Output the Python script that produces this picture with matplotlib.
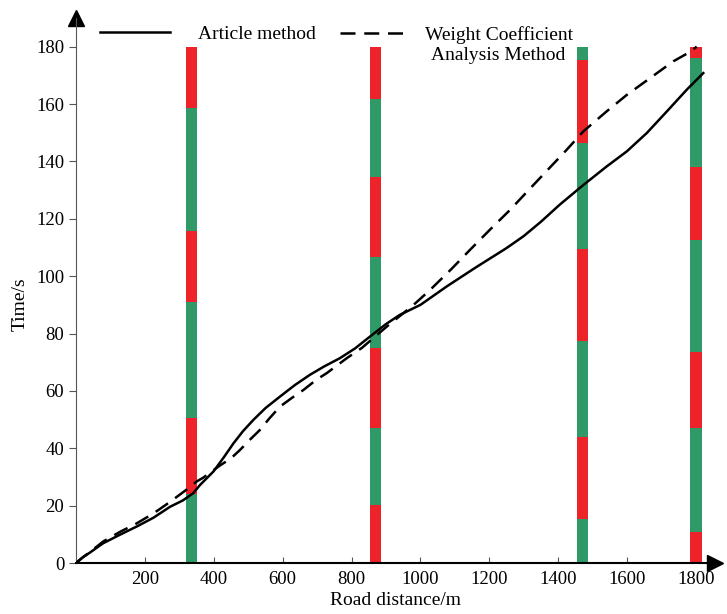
import matplotlib
matplotlib.use("Agg")
import matplotlib.pyplot as plt

plt.rcParams['font.family'] = ['Liberation Serif', 'DejaVu Serif']

# Article method (solid)
art_x = [0, 20, 40, 79, 130, 176, 225, 273, 310, 340, 360, 399, 430, 457, 485, 515, 550, 592,
         635, 679, 720, 766, 810, 853, 900, 940, 1000, 1076, 1160, 1250, 1300, 1350, 1405, 1470,
         1540, 1599, 1657, 1715, 1773, 1821]
art_y = [0, 2, 3.6, 6.9, 10, 12.7, 15.8, 19.6, 21.8, 24.3, 27.2, 31.9, 37, 41.7, 46, 49.9, 54, 58,
         62, 65.6, 68.5, 71.4, 74.8, 78.9, 83.3, 86.5, 90, 96.4, 103, 109.8, 114, 119, 125, 131.5,
         138.2, 143.5, 149.9, 157.4, 165, 170.8]

# Weight Coefficient Analysis Method (dashed)
wca_x = [0, 20, 40, 79, 130, 176, 225, 273, 320, 350, 370, 418, 450, 476, 505, 534, 562, 592,
         626, 660, 699, 728, 786, 830, 863, 902, 940, 980, 1028, 1090, 1144, 1200, 1260, 1310,
         1361, 1424, 1473, 1540, 1599, 1666, 1734, 1777, 1802]
wca_y = [0, 2, 3.8, 7.5, 11, 13.8, 17.3, 21.3, 25.5, 28.4, 29.8, 34, 36.5, 39.4, 43, 46.4, 50.5, 54.5,
         57.5, 60.3, 64, 66.2, 71.4, 75, 78.4, 82.4, 86.1, 90, 95.2, 102.5, 109.2, 116, 123.1, 129.5,
         136, 144, 150.5, 157.4, 163.2, 169, 174.9, 177.8, 180]

# Signal light bars: position and phase boundaries (bottom to top)
bar_x = [335, 870, 1470, 1800]
bar_bounds = [
    [0, 24.2, 50.6, 90.9, 115.7, 158.6, 180],
    [0, 20.3, 47.2, 74.8, 106.8, 134.7, 161.8, 180],
    [0, 15.5, 44.0, 77.5, 109.4, 146.3, 175.2, 180],
    [0, 10.8, 47.2, 73.6, 112.7, 137.9, 176.2, 180],
]
bar_first = ['g', 'r', 'g', 'r']  # colour of bottom segment
bar_width = 33

RED = '#EE2229'
GREEN = '#2F9A67'

xticks = [200, 400, 600, 800, 1000, 1200, 1400, 1600, 1800]
yticks = [0, 20, 40, 60, 80, 100, 120, 140, 160, 180]

fig = plt.figure(figsize=(7.27, 6.14), dpi=100)
ax = fig.add_axes([76/727, 51/614, (715-76)/727, (563-18)/614])

for bx, bounds, first in zip(bar_x, bar_bounds, bar_first):
    col = first
    for lo, hi in zip(bounds[:-1], bounds[1:]):
        ax.bar(bx, hi - lo, bottom=lo, width=bar_width, color=RED if col == 'r' else GREEN,
               linewidth=0, zorder=2)
        col = 'g' if col == 'r' else 'r'

l1, = ax.plot(art_x, art_y, color='black', lw=1.8, zorder=3, label='Article method')
l2, = ax.plot(wca_x, wca_y, color='black', lw=1.8, dashes=(6, 3.5), zorder=3,
              label='Weight Coefficient')

ax.set_xlim(0, 1855)
ax.set_ylim(0, 190)
ax.set_xticks(xticks)
ax.set_yticks(yticks)
ax.tick_params(axis='x', direction='in', length=4, labelsize=13.5, pad=6, color='#555555')
ax.tick_params(axis='y', direction='out', length=5, labelsize=13.5, color='#555555')
for s in ['top', 'right']:
    ax.spines[s].set_visible(False)
ax.spines['left'].set_color('#555555')
ax.spines['bottom'].set_color('black')
ax.spines['bottom'].set_linewidth(1.5)

ax.plot([0], [1], marker='^', color='black', markersize=11, transform=ax.transAxes, clip_on=False)
ax.plot([1], [0], marker='>', color='black', markersize=11, transform=ax.transAxes, clip_on=False)

ax.set_xlabel('Road distance/m', fontsize=14)
ax.set_ylabel('Time/s', fontsize=14)
ax.xaxis.set_label_coords(0.5, -0.053)
ax.yaxis.set_label_coords(-0.0735, 0.475)

leg1 = ax.legend(handles=[l1], loc='upper left', bbox_to_anchor=(0.0376, 0.986), frameon=False,
                 fontsize=14, handlelength=3.6, handletextpad=1.45, borderpad=0, borderaxespad=0)
ax.add_artist(leg1)
ax.legend(handles=[l2], loc='upper left', bbox_to_anchor=(0.413, 0.986), frameon=False,
          fontsize=14, handlelength=3.6, handletextpad=0.77, borderpad=0, borderaxespad=0)
ax.text(0.660, 0.932, 'Analysis Method', transform=ax.transAxes, ha='center', va='center',
        fontsize=14)

fig.savefig('out.png', dpi=100)
